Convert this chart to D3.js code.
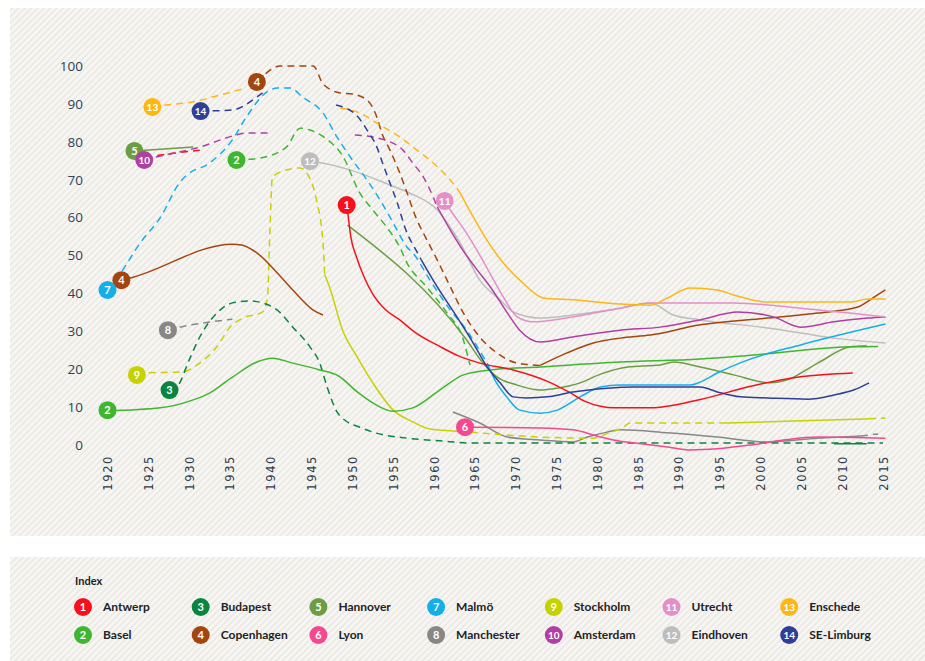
<!DOCTYPE html>
<html>
<head>
<meta charset="utf-8">
<script src="https://cdn.jsdelivr.net/npm/d3@7"></script>
<style>
  html, body { margin: 0; padding: 0; background: #fff; }
  svg { display: block; }
  .ytick text { font-family: "Open Sans", sans-serif; font-size: 13.5px; fill: #2f4256; }
  .xtick text { font-family: "DejaVu Sans", sans-serif; font-size: 11.5px; fill: #2e3c4b; letter-spacing: 1.6px; }
  .legend text { font-family: Lato, sans-serif; font-size: 12px; font-weight: 700; fill: #1e2326; }
  .badge text { font-family: Lato, sans-serif; font-size: 10.5px; font-weight: 700; fill: #fff; }
</style>
</head>
<body>
<svg id="chart" width="925" height="661"></svg>
<script>
'use strict';

// x ticks and y ticks
var yearTicks = d3.range(1920, 2016, 5);
var valueTicks = [0, 10, 20, 30, 40, 50, 60, 70, 80, 90, 100];

// city names, in index order
var cities = ['Antwerp', 'Basel', 'Budapest', 'Copenhagen', 'Hannover', 'Lyon', 'Malmö',
  'Manchester', 'Stockholm', 'Amsterdam', 'Utrecht', 'Eindhoven', 'Enschede', 'SE-Limburg'];
var cityColors = ['#f4111b', '#3fb62f', '#0b8440', '#a4450f', '#6c9c43', '#f4488f', '#14aee8',
  '#878787', '#c6d100', '#b13ea3', '#e38fc8', '#bdbdbd', '#fdb714', '#2f3e96'];

// readings per segment: [year, value]
var antwerpEarly = [[1926.1, 76.4], [1928.5, 77.1], [1931.3, 77.8]];
var antwerpSolid = [[1949.4, 62], [1949.8, 55], [1950.5, 49.6], [1951.5, 44], [1952.5, 39.8], [1954, 35.8],
  [1955.8, 33], [1957.5, 30], [1960.7, 26], [1963, 23.5], [1965.6, 21.6], [1969.7, 19.8], [1973.9, 16.8],
  [1976.5, 14], [1978.5, 11.5], [1980.4, 10.2], [1982, 9.8], [1986.5, 9.8], [1992.6, 12], [1998.8, 15.5],
  [2004.9, 18], [2011.3, 19]];

var baselSolid = [[1920, 9], [1926.5, 9.8], [1930.5, 11.9], [1932.5, 13.7], [1935.3, 17.9], [1938.3, 21.9],
  [1940.2, 22.9], [1942.7, 21.6], [1946, 19.8], [1948.3, 18.2], [1950.6, 14], [1952.5, 11.1], [1955, 8.9],
  [1957.4, 9.8], [1960.7, 14.5], [1963.6, 18.5], [1966.9, 19.8], [1973, 20.6], [1982.8, 21.9],
  [1992.6, 22.7], [1998.8, 23.7], [2011, 25.9], [2014.4, 26]];
var baselDashed = [[1935.8, 75.2], [1938.6, 75.7], [1941.9, 78.6], [1943.6, 83.6], [1944.8, 83.1],
  [1946.8, 80.8], [1948.8, 76.3], [1950.9, 66.5], [1952.5, 62], [1954.2, 57.5], [1955.8, 52.2],
  [1956.7, 48], [1959.1, 41.7], [1961.6, 34.8], [1963.6, 27.7], [1964.4, 21.1]];

var budapestDashed = [[1927.6, 14.5], [1928.5, 15.3], [1930, 22.4], [1931.3, 28.5], [1933.4, 34.8],
  [1935.3, 37.5], [1937.4, 38], [1939, 37.5], [1940.8, 35.6], [1942.7, 31.1], [1944.8, 25.9], [1946, 21.6],
  [1946.9, 15.3], [1948.1, 8.8], [1949.3, 6.2], [1950.9, 4.7], [1952.5, 3.4], [1956.7, 1.8], [1960.7, 1.1],
  [1964.8, 0.5], [1982.8, 0.5], [2015, 0.5]];
var budapestSolid = [[2009, 0.3], [2013, 0.3]];

var copenhagenEarly = [[1921.7, 43.5], [1922.7, 44], [1935.3, 53], [1936.4, 52.8], [1938.3, 50.7],
  [1940.8, 45.4], [1942.7, 40.9], [1945.2, 35.6], [1946.4, 34.3]];
var copenhagenDashed = [[1938.3, 95.8], [1939.5, 98.2], [1941.1, 100], [1945.2, 100], [1946.4, 95.3],
  [1948.5, 92.9], [1950, 92.6], [1951.8, 91], [1953, 86.5], [1953.6, 82.3], [1954.6, 77.8], [1955.8, 71.8],
  [1956.7, 66.5], [1957.9, 59.4], [1958.7, 55.9], [1960.4, 48.8], [1962, 41.7], [1963.6, 34.8],
  [1965.6, 28.5], [1967.7, 24.3], [1970.2, 21.6], [1973, 21]];
var copenhagenSolid = [[1973, 21], [1976.3, 24.3], [1979.5, 26.9], [1982.8, 28.2], [1986.5, 29],
  [1992.6, 31.7], [2000.9, 33.5], [2007, 34.8], [2011.9, 36.4], [2013.9, 39], [2015.3, 40.9]];

var hannoverEarly = [[1923.3, 77.6], [1930.5, 78.6]];
var hannoverSolid = [[1949.4, 58], [1964, 27.7], [1966, 21.6], [1967.7, 18], [1970.2, 15.8], [1973, 14.5],
  [1975.1, 15], [1977.9, 16.4], [1980.4, 18.7], [1983.7, 20.6], [1987.7, 21.1], [1989.3, 21.9],
  [1992.6, 20.6], [1996.7, 18.5], [2001.2, 16.4], [2003.3, 17.2], [2007, 21.6], [2011, 25.9], [2013, 26.2]];

var lyonSolid = [[1963.8, 4.7], [1964.8, 4.7], [1973, 4.5], [1977, 4], [1980.4, 2.1], [1982.8, 1],
  [1984.4, 0.6], [1988.6, -0.5], [1991.4, -1.3], [1994.7, -1], [1998.8, 0], [2002.8, 1.3], [2007, 2.1],
  [2015.3, 1.8]];

var malmoDashed = [[1920, 40.9], [1921.5, 45], [1924, 53.3], [1926.5, 60.1], [1928.8, 69.1], [1929.7, 71.2],
  [1932.5, 74.4], [1935.3, 80.5], [1937, 86.5], [1939.5, 93.1], [1940.8, 94.2], [1942.4, 94.2],
  [1943.9, 91.8], [1946.4, 87.6], [1948.1, 81.3], [1950, 75.2], [1951.8, 69.9], [1953.4, 64.6],
  [1955, 58.6], [1956.7, 52.2], [1957.4, 50.7], [1959.5, 43.5], [1962, 35.6], [1964, 30.3],
  [1965.3, 25.9], [1966.5, 21.6]];
var malmoSolid = [[1966.5, 21.6], [1967.5, 17], [1968.9, 12.7], [1970.5, 9.2], [1973, 8.4], [1975.1, 9.2],
  [1977.9, 12.7], [1980.4, 15.3], [1982.8, 15.8], [1991.4, 15.8], [1992.6, 16.6], [1994.7, 19],
  [1998.4, 22.4], [2004.9, 26.4], [2015.3, 31.9]];

var manchesterEarly = [[1927.4, 30.3], [1928.5, 30.9], [1935.3, 33.2]];
var manchesterSolid = [[1962.3, 8.7], [1965.6, 5.8], [1969, 2.1], [1973, 1.3], [1977, 0.8], [1978.8, 2.1],
  [1981.2, 3.4], [1982.8, 4], [1988.6, 3.2], [1994.7, 2.1], [2000.9, 0.8], [2007, 1.8], [2012.3, 2.4]];
var manchesterLate = [[2012.3, 2.4], [2014.4, 2.9]];

var stockholmDashed = [[1923.6, 18.5], [1924.8, 19], [1929.2, 19.3], [1931.3, 21.6], [1933.4, 25.9],
  [1935, 31.1], [1936.6, 33.5], [1939, 35.1], [1939.6, 39], [1939.9, 56.7], [1940.2, 70.7], [1942, 72.6],
  [1943.6, 73.1], [1944.4, 71.8], [1945.6, 64.6], [1946.4, 53.3], [1946.6, 45]];
var stockholmSolid = [[1946.6, 45], [1947.2, 41.7], [1948.8, 30.3], [1950.6, 23.2], [1952.5, 16.4],
  [1955, 9.2], [1957.4, 6.1], [1959.5, 4.2], [1962.3, 3.7], [1964.5, 3.4]];
var stockholmDashed2 = [[1964.5, 3.4], [1973, 2.1], [1979.5, 1.8], [1981.2, 3], [1983.2, 4.7], [1984, 5.8],
  [1992.6, 5.8], [1995.5, 5.8]];
var stockholmSolid2 = [[1995.5, 5.8], [2004, 6.3], [2013.3, 6.9]];
var stockholmDashed3 = [[2013.3, 6.9], [2015.3, 7.1]];

var amsterdamDashed = [[1924.5, 75.2], [1926, 76], [1931.3, 78.6], [1935.8, 81.8], [1937, 82.3], [1940.2, 82.3]];
var amsterdamDashed2 = [[1950.3, 81.8], [1951.8, 81.5], [1953, 81], [1954.6, 80], [1956.2, 77.8],
  [1957.4, 74.4], [1958.7, 70.7], [1959.9, 65.4], [1960.4, 62.8]];
var amsterdamSolid = [[1960.4, 62.8], [1962, 56.7], [1963.5, 51.5], [1965, 47], [1966.9, 41.7], [1969, 34.8],
  [1970.5, 30.3], [1973, 27.2], [1977, 28.5], [1982.8, 30.3], [1987.7, 31.1], [1992.6, 33], [1997.2, 35.1],
  [2001.6, 33.8], [2004.9, 31.1], [2009, 32.5], [2013.1, 33.5], [2015.3, 33.8]];

var utrechtSolid = [[1961.3, 64.4], [1962, 62], [1963.8, 56.5], [1965.5, 50.5], [1966.8, 45.5], [1968.5, 39],
  [1970.2, 33.8], [1972.1, 32.5], [1977, 33.8], [1982.8, 36.1], [1986.5, 37.5], [1996.7, 37.5],
  [2004.9, 36.1], [2015.3, 33.8]];

var eindhovenSolid = [[1944.8, 74.9], [1945.6, 74.7], [1949.7, 72.6], [1954.6, 68.6], [1957, 66.5],
  [1960.4, 62], [1963.2, 53.3], [1965.6, 43.5], [1968.1, 38.3], [1969.7, 35.1], [1973, 33.5], [1977, 34.3],
  [1982.8, 36.1], [1986.5, 37.5], [1989.3, 34.3], [1992.6, 33], [2000.9, 30.9], [2009, 28.2], [2015.3, 26.9]];

var enschedeDashed = [[1925.5, 89.2], [1927.2, 89.7], [1930.4, 90.5], [1933.7, 92.3], [1937, 94.2]];
var enschedeDashed2 = [[1948.5, 88.9], [1950.9, 87.6], [1953.4, 84.4], [1955.8, 81.3], [1957.9, 77.8],
  [1959.9, 74.4], [1962.3, 69.1], [1963.2, 66.5]];
var enschedeSolid = [[1963.2, 66.5], [1964.8, 60.2], [1966.2, 55], [1968.5, 48], [1970.9, 42.7],
  [1973.4, 38.8], [1977, 38.3], [1982.8, 37.2], [1986.5, 36.9], [1988.6, 38.8], [1991.4, 41.4],
  [1994.7, 40.9], [1996.7, 39.6], [2000.9, 37.7], [2011, 37.7], [2013.1, 38.5], [2015.3, 38.5]];

var limburgDashed = [[1931.4, 88.1], [1935.3, 88.4], [1938.3, 91.8], [1939, 92.9]];
var limburgDashed2 = [[1948, 89.7], [1950.5, 87], [1951.8, 83.1], [1953, 78.6], [1953.7, 74.4],
  [1954.6, 69.1], [1955.5, 63.9], [1956.5, 57], [1957.9, 51], [1958.4, 49]];
var limburgSolid = [[1958.4, 49], [1960.4, 41.7], [1962.8, 33.8], [1964.8, 26.9], [1966.5, 20.6],
  [1968.1, 16.4], [1969.7, 12.7], [1971.4, 12.4], [1973.9, 12.7], [1977, 14], [1981.2, 15], [1984.4, 15.3],
  [1992.6, 15.3], [1994.7, 14], [1997.5, 12.7], [2000.9, 12.4], [2005.8, 12.1], [2009, 13.2],
  [2011.4, 14.5], [2013.3, 16.4]];

// numbered badges: [index, year, value]
var badges = [[1, 1949.3, 63.3], [2, 1920, 9.2], [2, 1935.8, 75.2], [3, 1927.6, 14.5], [4, 1921.7, 43.5],
  [4, 1938.3, 95.8], [5, 1923.3, 77.6], [6, 1963.8, 4.7], [7, 1920, 40.9], [8, 1927.4, 30.3],
  [9, 1923.6, 18.5], [10, 1924.5, 75.2], [11, 1961.3, 64.4], [12, 1944.8, 74.9], [13, 1925.5, 89.2],
  [14, 1931.4, 88.1]];

// segments: [city index, dashed, points] (drawn in this order)
var segments = [
  [12, false, eindhovenSolid],
  [8, true, manchesterEarly], [8, false, manchesterSolid], [8, true, manchesterLate],
  [9, true, stockholmDashed], [9, false, stockholmSolid], [9, true, stockholmDashed2],
  [9, false, stockholmSolid2], [9, true, stockholmDashed3],
  [3, true, budapestDashed], [3, false, budapestSolid],
  [5, false, hannoverEarly], [5, false, hannoverSolid],
  [2, false, baselSolid], [2, true, baselDashed],
  [4, false, copenhagenEarly], [4, true, copenhagenDashed], [4, false, copenhagenSolid],
  [7, true, malmoDashed], [7, false, malmoSolid],
  [6, false, lyonSolid],
  [1, true, antwerpEarly], [1, false, antwerpSolid],
  [10, true, amsterdamDashed], [10, true, amsterdamDashed2], [10, false, amsterdamSolid],
  [11, false, utrechtSolid],
  [13, true, enschedeDashed], [13, true, enschedeDashed2], [13, false, enschedeSolid],
  [14, true, limburgDashed], [14, true, limburgDashed2], [14, false, limburgSolid]
];

var svg = d3.select('#chart');

// hatched background
var pattern = svg.append('defs').append('pattern')
    .attr('id', 'hatch')
    .attr('patternUnits', 'userSpaceOnUse')
    .attr('width', 4.5)
    .attr('height', 4.5)
    .attr('patternTransform', 'rotate(45)');
pattern.append('rect').attr('width', 4.5).attr('height', 4.5).attr('fill', '#f7f6f3');
pattern.append('rect').attr('width', 1.8).attr('height', 4.5).attr('fill', '#ebe9e4');

svg.append('rect').attr('x', 10).attr('y', 8).attr('width', 915).attr('height', 528).attr('fill', 'url(#hatch)');
svg.append('rect').attr('x', 10).attr('y', 557).attr('width', 915).attr('height', 104).attr('fill', 'url(#hatch)');

var x = d3.scaleLinear().domain([1920, 2015]).range([107.5, 883]);
var y = d3.scaleLinear().domain([0, 100]).range([445, 66]);

// Axes
var yAxis = svg.append('g')
    .attr('class', 'ytick')
    .attr('transform', 'translate(83, 0)')
    .call(d3.axisLeft(y).tickValues(valueTicks).tickSize(0).tickPadding(0));
yAxis.select('.domain').remove();

var xAxis = svg.append('g')
    .attr('class', 'xtick')
    .attr('transform', 'translate(0, 455)')
    .call(d3.axisBottom(x).tickValues(yearTicks).tickFormat(d3.format('d')).tickSize(0));
xAxis.select('.domain').remove();
xAxis.selectAll('text')
    .attr('y', 0)
    .attr('dy', '0.35em')
    .attr('transform', 'rotate(-90)')
    .style('text-anchor', 'end');

// Lines
var line = d3.line()
    .x(function (d) { return x(d[0]); })
    .y(function (d) { return y(d[1]); })
    .curve(d3.curveMonotoneX);

svg.append('g').selectAll('path')
    .data(segments)
  .enter().append('path')
    .attr('fill', 'none')
    .attr('stroke', function (d) { return cityColors[d[0] - 1]; })
    .attr('stroke-width', 1.5)
    .attr('stroke-dasharray', function (d) { return d[1] ? '7,5' : null; })
    .attr('d', function (d) { return line(d[2]); });

// Badges
var badge = svg.append('g').attr('class', 'badge').selectAll('g')
    .data(badges)
  .enter().append('g')
    .attr('transform', function (d) { return 'translate(' + x(d[1]) + ',' + y(d[2]) + ')'; });
badge.append('circle')
    .attr('r', 9)
    .attr('fill', function (d) { return cityColors[d[0] - 1]; });
badge.append('text')
    .attr('text-anchor', 'middle')
    .attr('dy', '0.36em')
    .style('font-size', function (d) { return d[0] > 9 ? '10px' : '11px'; })
    .text(function (d) { return d[0]; });

// Legend
var legend = svg.append('g').attr('class', 'legend');
legend.append('text')
    .attr('x', 75)
    .attr('y', 585)
    .style('font-size', '11px')
    .text('Index');

var item = legend.selectAll('g.item')
    .data(cities)
  .enter().append('g')
    .attr('class', 'item badge')
    .attr('transform', function (d, i) {
      return 'translate(' + (83 + Math.floor(i / 2) * 117.7) + ',' + (607 + (i % 2) * 28) + ')';
    });
item.append('circle')
    .attr('r', 9)
    .attr('fill', function (d, i) { return cityColors[i]; });
item.append('text')
    .attr('text-anchor', 'middle')
    .attr('dy', '0.36em')
    .style('font-size', function (d, i) { return i >= 9 ? '10px' : '11px'; })
    .text(function (d, i) { return i + 1; });
item.append('text')
    .attr('x', 20)
    .attr('dy', '0.36em')
    .style('fill', '#1e2326')
    .style('font-size', '12px')
    .text(function (d) { return d; });
</script>
</body>
</html>
